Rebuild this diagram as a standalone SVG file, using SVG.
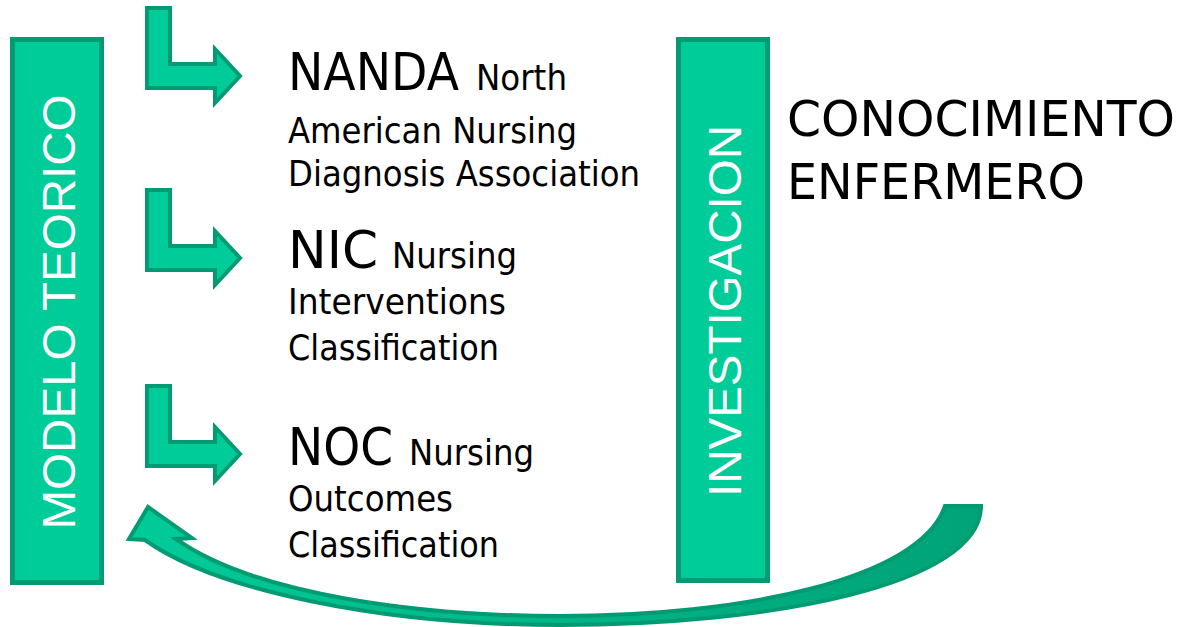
<svg xmlns="http://www.w3.org/2000/svg" width="1193" height="627" viewBox="0 0 1193 627">
<style>
.box{fill:#00CC99;stroke:#009B72;stroke-width:5}
.larrow{fill:#00CC99;stroke:#009B72;stroke-width:4;stroke-linejoin:miter}
.vt{font-family:"Liberation Sans",Arial,sans-serif;font-size:47px;fill:#FFFFFF}
.t{font-family:"DejaVu Sans",Verdana,sans-serif;fill:#000000}
.big{font-size:52px}
.sm{font-size:36px}
</style>
<defs>
<path id="L" d="M2,2 H25 V58 H70 V43 L95,70 L70,97 V82 H2 Z"/>
<linearGradient id="cg" x1="130" y1="0" x2="980" y2="0" gradientUnits="userSpaceOnUse">
<stop offset="0" stop-color="#00CC99"/>
<stop offset="0.55" stop-color="#00B385"/>
<stop offset="1" stop-color="#00A377"/>
</linearGradient>
</defs>
<g id="modelo-teorico">
<rect class="box" x="12.5" y="39.5" width="89" height="543"/>
<text class="vt" transform="translate(75,312) rotate(-90)" text-anchor="middle" textLength="435" lengthAdjust="spacingAndGlyphs">MODELO TEORICO</text>
</g>
<g id="investigacion">
<rect class="box" x="678.5" y="39.5" width="89" height="541"/>
<text class="vt" transform="translate(741,311) rotate(-90)" text-anchor="middle" textLength="372" lengthAdjust="spacingAndGlyphs">INVESTIGACION</text>
</g>
<g id="connectors">
<use href="#L" class="larrow" transform="translate(145,6)"/>
<use href="#L" class="larrow" transform="translate(145,188)"/>
<use href="#L" class="larrow" transform="translate(145,384)"/>
<path d="M981,506 C981,585 770,625 560,625 C380,625 215,590 145,540 L129,539 L148,507 L192,538 L176,539 C255,595 420,616 560,616 C740,616 920,580 945,506 Z" fill="url(#cg)" stroke="#009B72" stroke-width="4" stroke-linejoin="miter"/>
</g>
<g id="nanda">
<text class="t" x="288" y="90"><tspan class="big" textLength="171" lengthAdjust="spacingAndGlyphs">NANDA</tspan><tspan class="sm" x="476" textLength="91" lengthAdjust="spacingAndGlyphs">North</tspan></text>
<text class="t sm" x="288" y="143" textLength="289" lengthAdjust="spacingAndGlyphs">American Nursing</text>
<text class="t sm" x="288" y="186" textLength="352" lengthAdjust="spacingAndGlyphs">Diagnosis Association</text>
</g>
<g id="nic">
<text class="t" x="288" y="268"><tspan class="big" textLength="90" lengthAdjust="spacingAndGlyphs">NIC</tspan><tspan class="sm" x="392" textLength="125" lengthAdjust="spacingAndGlyphs">Nursing</tspan></text>
<text class="t sm" x="288" y="314" textLength="218" lengthAdjust="spacingAndGlyphs">Interventions</text>
<text class="t sm" x="288" y="360" textLength="211" lengthAdjust="spacingAndGlyphs">Classification</text>
</g>
<g id="noc">
<text class="t" x="288" y="465"><tspan class="big" textLength="105" lengthAdjust="spacingAndGlyphs">NOC</tspan><tspan class="sm" x="409" textLength="125" lengthAdjust="spacingAndGlyphs">Nursing</tspan></text>
<text class="t sm" x="288" y="511" textLength="165" lengthAdjust="spacingAndGlyphs">Outcomes</text>
<text class="t sm" x="288" y="557" textLength="211" lengthAdjust="spacingAndGlyphs">Classification</text>
</g>
<g id="conocimiento">
<text class="t" x="787" y="136" font-size="50" textLength="388" lengthAdjust="spacingAndGlyphs">CONOCIMIENTO</text>
<text class="t" x="787" y="199" font-size="50" textLength="298" lengthAdjust="spacingAndGlyphs">ENFERMERO</text>
</g>
</svg>
